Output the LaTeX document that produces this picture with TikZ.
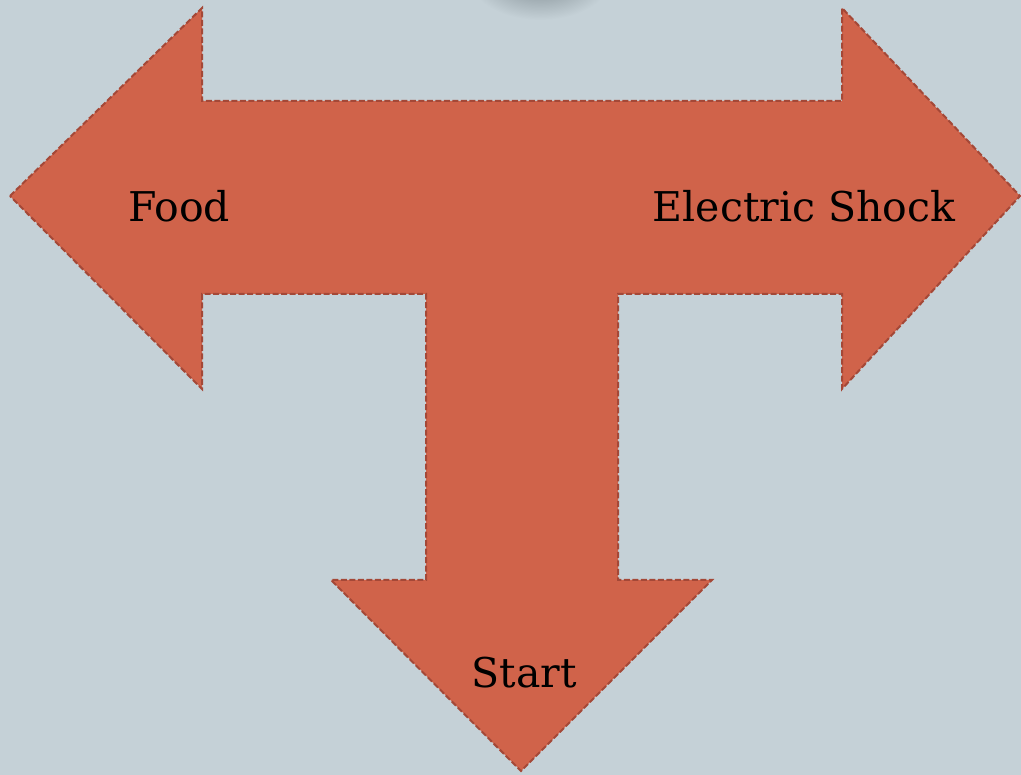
\documentclass[tikz,border=0pt]{standalone}
\usepackage{fontspec}
\setmainfont{DejaVu Serif}
\definecolor{bgc}{HTML}{C5D1D7}
\definecolor{arrfill}{HTML}{D0634A}
\definecolor{arrline}{HTML}{A44837}
\definecolor{shadowc}{HTML}{7A868C}
\begin{document}
\begin{tikzpicture}[x=1pt,y=-1pt,
  lbl/.style={font=\fontsize{41}{49}\selectfont, text=black, anchor=base, inner sep=0pt},
  tarrow/.style={fill=arrfill, draw=arrline, dash pattern=on 6pt off 2.5pt, line width=2pt, line join=miter}]
\fill[bgc] (0,0) rectangle (1021,775);
\useasboundingbox (0,0) rectangle (1021,775);
\begin{scope}
\clip (0,0) rectangle (1021,775);
\shade[inner color=shadowc, outer color=bgc] (540,-24) ellipse (72 and 44);
\end{scope}
\draw[tarrow] (10,196) -- (202,8) -- (202,101) -- (842,101) -- (842,8) -- (1020,196)
  -- (842,389) -- (842,294) -- (618,294) -- (618,580) -- (712,580) -- (521,771)
  -- (331,580) -- (426,580) -- (426,294) -- (202,294) -- (202,389) -- cycle;
\node[lbl] (food) at (179,222) {Food};
\node[lbl] (shock) at (804,222) {Electric Shock};
\node[lbl] (start) at (524,687) {Start};
\end{tikzpicture}
\end{document}
